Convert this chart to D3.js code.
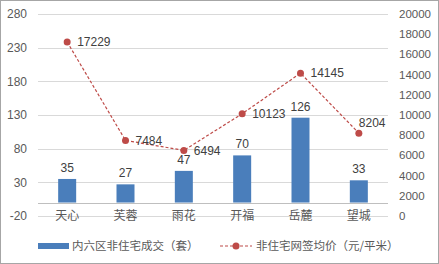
<!DOCTYPE html>
<html>
<head>
<meta charset="utf-8">
<script src="https://cdn.jsdelivr.net/npm/d3@7"></script>
<style>
  html, body { margin: 0; padding: 0; background: #fff; }
  svg { display: block; font-family: "Liberation Sans", "Noto Sans CJK SC", sans-serif; }
</style>
</head>
<body>
<div id="chart"></div>
<script>
// data
var categories = ['天心', '芙蓉', '雨花', '开福', '岳麓', '望城'];
var deals = [35, 27, 47, 70, 126, 33];
var prices = [17229, 7484, 6494, 10123, 14145, 8204];
var leftTicks = [-20, 30, 80, 130, 180, 230, 280];
var rightTicks = [0, 2000, 4000, 6000, 8000, 10000, 12000, 14000, 16000, 18000, 20000];
var barName = '内六区非住宅成交（套）';
var lineName = '非住宅网签均价（元/平米）';

var width = 439, height = 264,
	margin = { top: 14, left: 38, right: 51, bottom: 48 };

var barColor = '#4a7ebb', lineColor = '#be4b48', textColor = '#595959';

var svg = d3.select('#chart').append('svg')
	.attr('width', width)
	.attr('height', height);

svg.append('rect')
	.attr('x', 0.5).attr('y', 0.5)
	.attr('width', width - 1).attr('height', height - 1)
	.attr('fill', '#fff').attr('stroke', '#a6a6a6');

var x = d3.scaleBand()
	.domain(categories)
	.range([margin.left, width - margin.right]);

var yL = d3.scaleLinear()
	.domain([-20, 280])
	.range([height - margin.bottom, margin.top]);

var yR = d3.scaleLinear()
	.domain([0, 20000])
	.range([height - margin.bottom, margin.top]);

function cx(i){ return x(categories[i]) + x.bandwidth() / 2; }

// gridlines
svg.append('g')
	.selectAll('line')
	.data(leftTicks)
	.enter().append('line')
	.attr('x1', margin.left).attr('x2', width - margin.right)
	.attr('y1', function(d){ return Math.round(yL(d)) + 0.5; })
	.attr('y2', function(d){ return Math.round(yL(d)) + 0.5; })
	.attr('stroke', '#d9d9d9');

// category axis at zero
svg.append('line')
	.attr('x1', margin.left).attr('x2', width - margin.right)
	.attr('y1', Math.round(yL(0)) + 0.5).attr('y2', Math.round(yL(0)) + 0.5)
	.attr('stroke', '#bfbfbf');

// left axis labels
svg.append('g')
	.selectAll('text')
	.data(leftTicks)
	.enter().append('text')
	.attr('x', 27)
	.attr('y', function(d){ return yL(d); })
	.attr('dy', '0.35em')
	.attr('text-anchor', 'end')
	.attr('font-size', 12)
	.attr('fill', textColor)
	.text(function(d){ return d; });

// right axis labels
svg.append('g')
	.selectAll('text')
	.data(rightTicks)
	.enter().append('text')
	.attr('x', 399)
	.attr('y', function(d){ return yR(d); })
	.attr('dy', '0.35em')
	.attr('font-size', 11.5)
	.attr('fill', textColor)
	.text(function(d){ return d; });

// category labels
svg.append('g')
	.selectAll('text')
	.data(categories)
	.enter().append('text')
	.attr('x', function(d, i){ return cx(i); })
	.attr('y', yL(-20))
	.attr('dy', '0.35em')
	.attr('text-anchor', 'middle')
	.attr('font-size', 12)
	.attr('font-family', '"Noto Sans CJK SC", sans-serif')
	.attr('fill', textColor)
	.text(function(d){ return d; });

// bars
var barW = 18;
svg.append('g')
	.selectAll('rect')
	.data(deals)
	.enter().append('rect')
	.attr('x', function(d, i){ return cx(i) - barW / 2; })
	.attr('y', function(d){ return yL(d); })
	.attr('width', barW)
	.attr('height', function(d){ return yL(0) - yL(d); })
	.attr('fill', barColor);

svg.append('g')
	.selectAll('text')
	.data(deals)
	.enter().append('text')
	.attr('x', function(d, i){ return cx(i); })
	.attr('y', function(d){ return yL(d) - 7; })
	.attr('text-anchor', 'middle')
	.attr('font-size', 12)
	.attr('fill', '#404040')
	.text(function(d){ return d; });

// price line
var line = d3.line()
	.x(function(d, i){ return cx(i); })
	.y(function(d){ return yR(d); });

svg.append('path')
	.datum(prices)
	.attr('d', line)
	.attr('fill', 'none')
	.attr('stroke', lineColor)
	.attr('stroke-width', 1.2)
	.attr('stroke-dasharray', '3,2');

svg.append('g')
	.selectAll('circle')
	.data(prices)
	.enter().append('circle')
	.attr('cx', function(d, i){ return cx(i); })
	.attr('cy', function(d){ return yR(d); })
	.attr('r', 3.5)
	.attr('fill', lineColor);

// last label sits above its point, the others to the right
var last = prices.length - 1;
svg.append('g')
	.selectAll('text')
	.data(prices)
	.enter().append('text')
	.attr('x', function(d, i){ return i == last ? cx(i) : cx(i) + 10; })
	.attr('y', function(d, i){ return i == last ? yR(d) - 10 : yR(d); })
	.attr('dy', '0.35em')
	.attr('font-size', 12)
	.attr('fill', '#404040')
	.text(function(d){ return d; });

// legend
var legY = 246;
svg.append('rect')
	.attr('x', 38).attr('y', legY - 3)
	.attr('width', 31).attr('height', 6)
	.attr('fill', barColor);
svg.append('text')
	.attr('x', 72).attr('y', legY).attr('dy', '0.35em')
	.attr('font-size', 11.5)
	.attr('font-family', '"Noto Sans CJK SC", sans-serif')
	.attr('fill', textColor)
	.text(barName);

svg.append('line')
	.attr('x1', 220).attr('x2', 252)
	.attr('y1', legY).attr('y2', legY)
	.attr('stroke', lineColor).attr('stroke-width', 1.2)
	.attr('stroke-dasharray', '3,2');
svg.append('circle')
	.attr('cx', 236).attr('cy', legY).attr('r', 3.5)
	.attr('fill', lineColor);
svg.append('text')
	.attr('x', 256).attr('y', legY).attr('dy', '0.35em')
	.attr('font-size', 11.5)
	.attr('font-family', '"Noto Sans CJK SC", sans-serif')
	.attr('fill', textColor)
	.text(lineName);
</script>
</body>
</html>
